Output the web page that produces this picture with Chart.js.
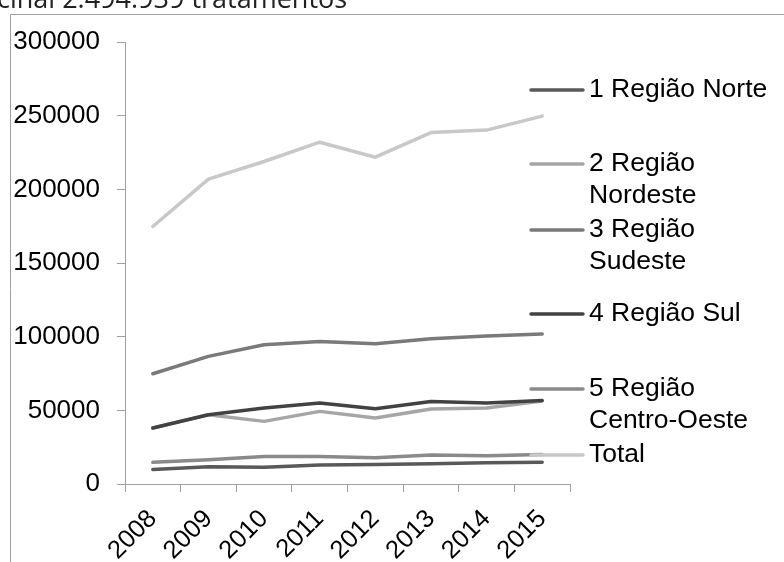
<!DOCTYPE html>
<html>
<head>
<meta charset="utf-8">
<script src="https://cdn.jsdelivr.net/npm/chart.js@4.4.1/dist/chart.umd.min.js"></script>
<style>
  html, body { margin: 0; padding: 0; background: #fff; }
  #wrap { position: relative; width: 784px; height: 562px; overflow: hidden; }
</style>
</head>
<body>
<div id="wrap"><canvas id="chart" width="784" height="562"></canvas></div>
<script>
const years = ['2008', '2009', '2010', '2011', '2012', '2013', '2014', '2015'];
const norte = [9900, 11700, 11300, 12900, 13300, 13800, 14400, 14700];
const nordeste = [38000, 47000, 42500, 49300, 44800, 50900, 51600, 56300];
const sudeste = [74800, 86600, 94500, 96800, 95200, 98600, 100400, 101800];
const sul = [38000, 47000, 51600, 55000, 51100, 56000, 55000, 56700];
const centroOeste = [14700, 16500, 18700, 18700, 17800, 19700, 19200, 20100];
const total = [174800, 206900, 218900, 232000, 221800, 238500, 240200, 249700];

const seriesNames = ['1 Região Norte', '2 Região Nordeste', '3 Região Sudeste', '4 Região Sul', '5 Região Centro-Oeste', 'Total'];
const seriesData = [norte, nordeste, sudeste, sul, centroOeste, total];
const seriesColors = ['#595959', '#a6a6a6', '#7a7a7a', '#424242', '#8a8a8a', '#c8c8c8'];

const font = '"Liberation Sans", Arial, sans-serif';
const axisGray = '#a0a0a0';

// frame, cut title and the side legend
const decor = {
    id: 'decor',
    beforeDraw(chart) {
        const ctx = chart.ctx;
        ctx.save();
        ctx.strokeStyle = axisGray;
        ctx.lineWidth = 1;
        ctx.beginPath();
        ctx.moveTo(10.5, 562);
        ctx.lineTo(10.5, 14.5);
        ctx.lineTo(784, 14.5);
        ctx.stroke();
        ctx.fillStyle = '#222';
        ctx.font = '27px "Open Sans"';
        ctx.textBaseline = 'alphabetic';
        ctx.fillText('cinal 2.494.939 tratamentos', -3, 8);
        ctx.restore();
    },
    afterDraw(chart, args, opts) {
        const ctx = chart.ctx;
        ctx.save();
        ctx.font = '26.5px ' + font;
        ctx.textBaseline = 'middle';
        chart.data.datasets.forEach((ds, i) => {
            const y = opts.ys[i];
            ctx.strokeStyle = ds.borderColor;
            ctx.lineWidth = 3.5;
            ctx.lineCap = 'round';
            ctx.beginPath();
            ctx.moveTo(531, y);
            ctx.lineTo(583, y);
            ctx.stroke();
            // wrap words to the space on the right
            const lines = [];
            let cur = '';
            ds.label.split(' ').forEach(w => {
                const t = cur ? cur + ' ' + w : w;
                if (cur && ctx.measureText(t).width > 192) {
                    lines.push(cur);
                    cur = w;
                } else {
                    cur = t;
                }
            });
            lines.push(cur);
            ctx.fillStyle = '#000';
            lines.forEach((l, k) => ctx.fillText(l, 589, y + k * 32));
        });
        ctx.restore();
    }
};

new Chart(document.getElementById('chart'), {
    type: 'line',
    data: {
        labels: years,
        datasets: seriesNames.map((name, i) => ({
            label: name,
            data: seriesData[i],
            borderColor: seriesColors[i],
            backgroundColor: seriesColors[i],
            borderWidth: 3.5,
            borderCapStyle: 'round',
            borderJoinStyle: 'round',
            pointRadius: 0,
            tension: 0,
            order: seriesNames.length - i
        }))
    },
    options: {
        responsive: false,
        animation: false,
        layout: { padding: { top: 42, right: 214, bottom: 0, left: 0 } },
        plugins: {
            legend: { display: false },
            tooltip: { enabled: false },
            decor: { ys: [90, 164, 230, 314, 389, 455] }
        },
        scales: {
            x: {
                offset: true,
                grid: { offset: true, drawOnChartArea: false, tickLength: 8, color: axisGray },
                border: { color: axisGray },
                ticks: { color: '#000', font: { family: font, size: 25.5 }, minRotation: 45, maxRotation: 45, padding: 12 },
                afterFit(scale) { scale.height = 78; }
            },
            y: {
                min: 0,
                max: 300000,
                grid: { drawOnChartArea: false, tickLength: 8, color: axisGray },
                border: { color: axisGray },
                ticks: {
                    stepSize: 50000,
                    color: '#000',
                    padding: 17,
                    font: { family: font, size: 26 },
                    callback: v => String(v)
                },
                afterFit(scale) { scale.width = 125; }
            }
        }
    },
    plugins: [decor]
});
</script>
</body>
</html>
